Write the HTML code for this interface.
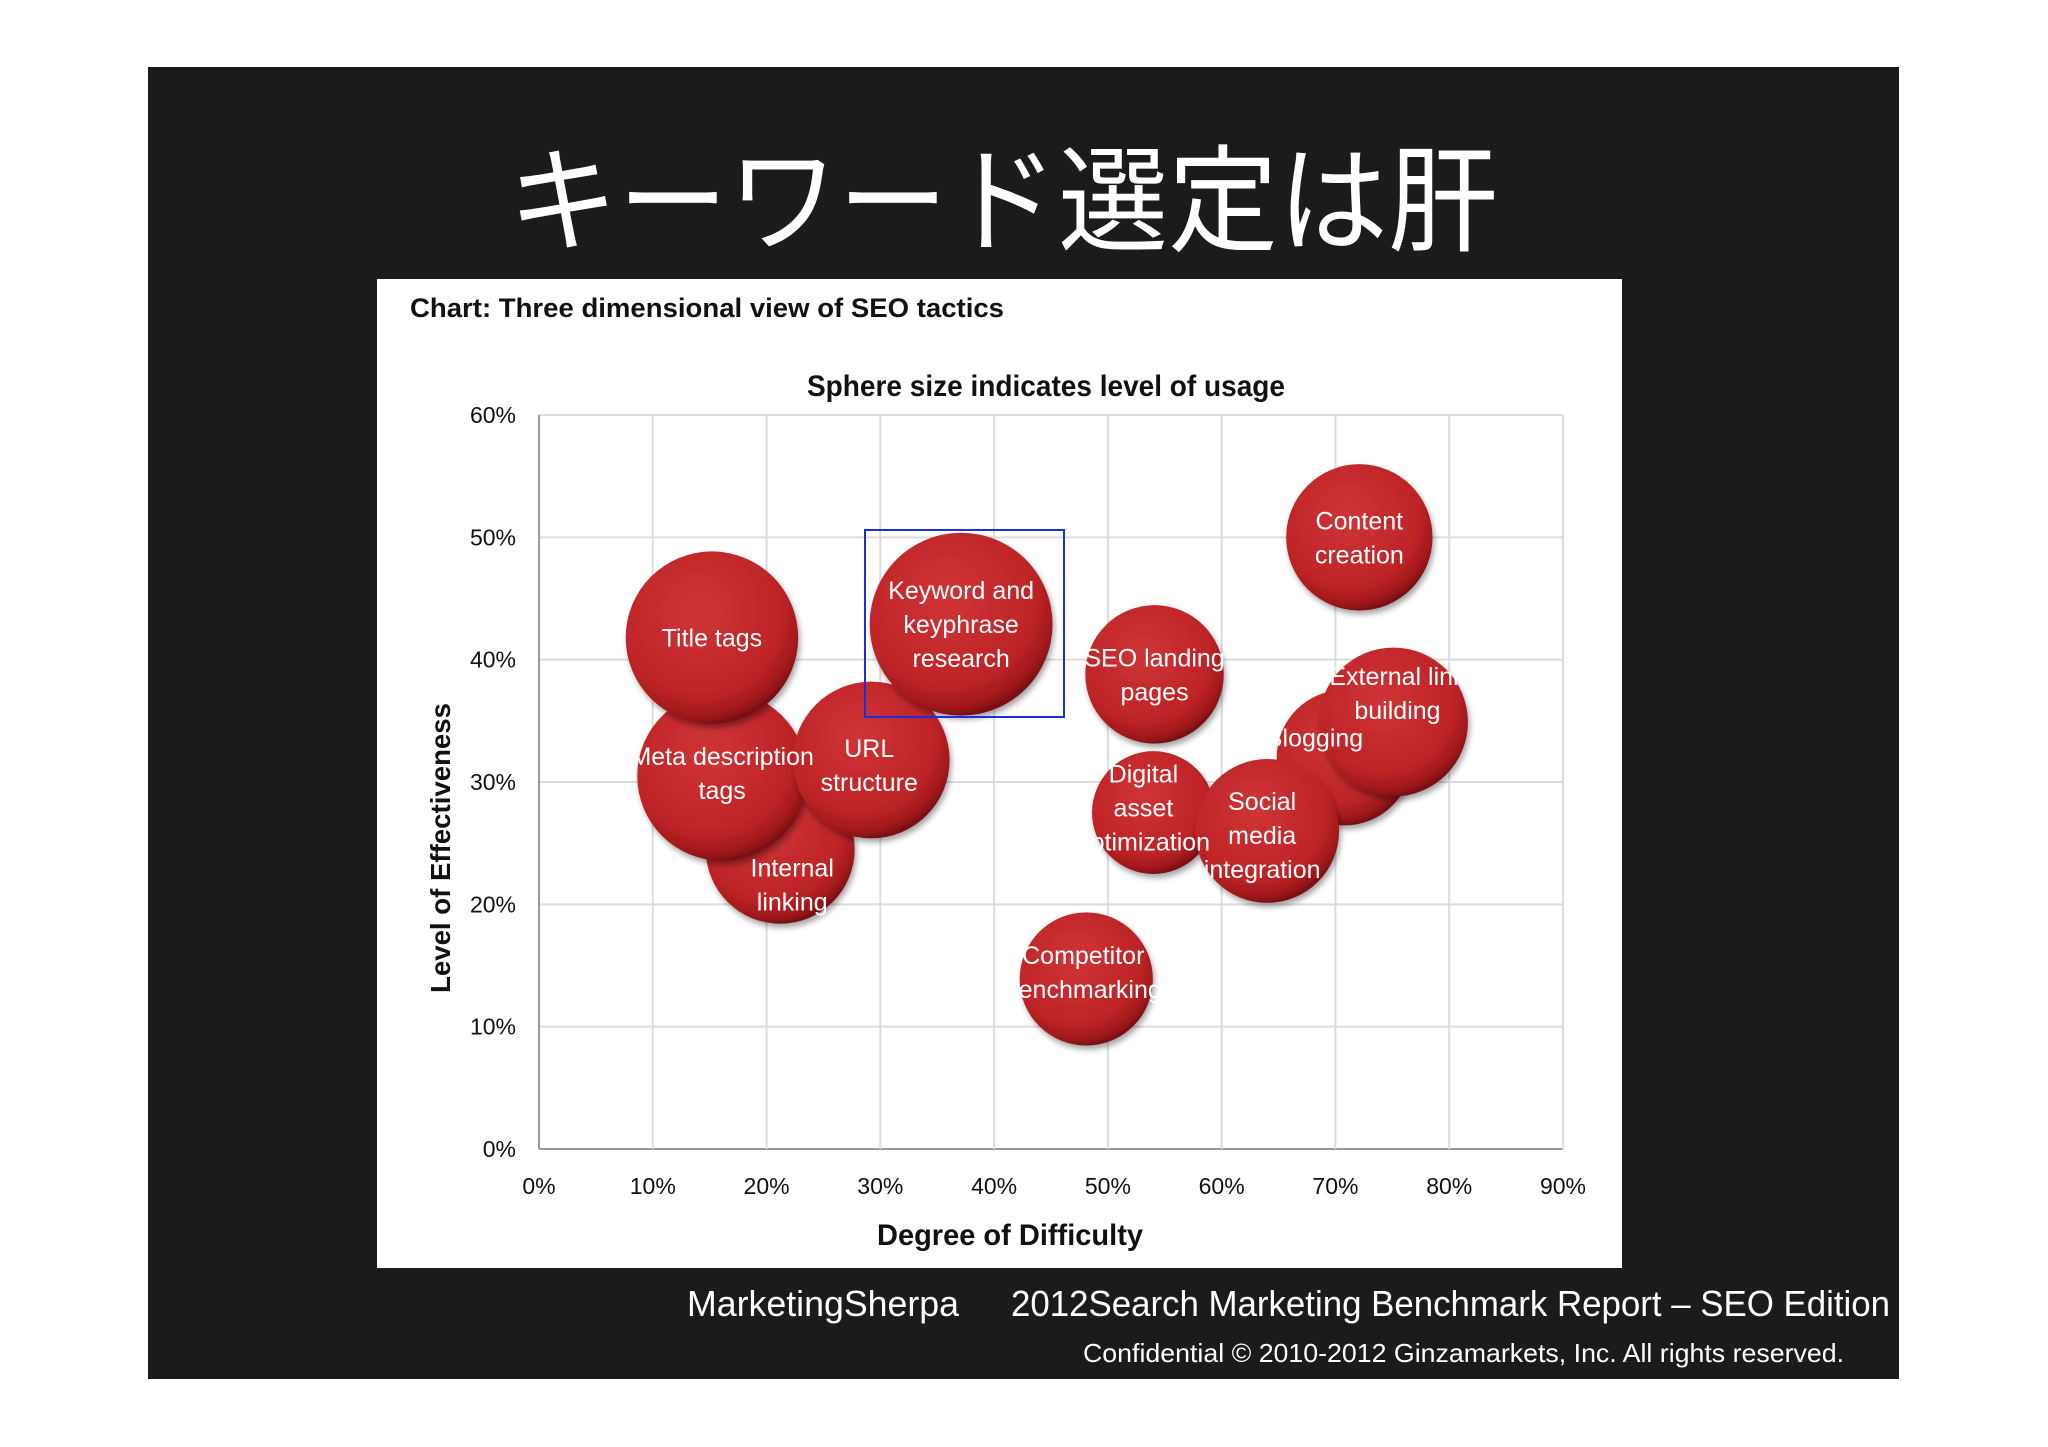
<!DOCTYPE html>
<html><head><meta charset="utf-8">
<style>
html,body{margin:0;padding:0;background:#fff;}
svg{display:block;}
text{font-family:"Liberation Sans","Noto Sans CJK JP",sans-serif;}
</style></head>
<body>
<svg id="slide" width="2048" height="1447" viewBox="0 0 2048 1447">
<defs>
<radialGradient id="ball" cx="0.42" cy="0.35" r="0.65">
<stop offset="0" stop-color="#cf3436"/>
<stop offset="0.75" stop-color="#bd2427"/>
<stop offset="0.93" stop-color="#a0181b"/>
<stop offset="1" stop-color="#7d1012"/>
</radialGradient>
<filter id="sh" x="-20%" y="-20%" width="140%" height="140%"><feDropShadow dx="2" dy="4" stdDeviation="3" flood-color="#000" flood-opacity="0.35"/></filter>
</defs>
<rect x="148" y="67" width="1751" height="1312" fill="#1c1a1b"/>
<text x="1003" y="242" font-size="116" fill="#fff" text-anchor="middle" textLength="990" lengthAdjust="spacingAndGlyphs">キーワード選定は肝</text>
<rect x="377" y="279" width="1245" height="989" fill="#fff"/>
<text x="410" y="317" font-size="27" font-weight="bold" fill="#111" textLength="594" lengthAdjust="spacingAndGlyphs">Chart: Three dimensional view of SEO tactics</text>
<text x="1046" y="396" font-size="30" font-weight="bold" fill="#111" text-anchor="middle" textLength="478" lengthAdjust="spacingAndGlyphs">Sphere size indicates level of usage</text>
<g id="plot"></g>
<text transform="translate(450,848) rotate(-90)" font-size="28" font-weight="bold" fill="#111" text-anchor="middle" textLength="290" lengthAdjust="spacingAndGlyphs">Level of Effectiveness</text>
<text x="1010" y="1245" font-size="30" font-weight="bold" fill="#111" text-anchor="middle" textLength="266" lengthAdjust="spacingAndGlyphs">Degree of Difficulty</text>
<text x="687" y="1316" font-size="36" fill="#fff" textLength="272" lengthAdjust="spacingAndGlyphs">MarketingSherpa</text>
<text x="1011" y="1316" font-size="36" fill="#fff" textLength="879" lengthAdjust="spacingAndGlyphs">2012Search Marketing Benchmark Report – SEO Edition</text>
<text x="1083" y="1362" font-size="26" fill="#fff" textLength="761" lengthAdjust="spacingAndGlyphs">Confidential © 2010-2012 Ginzamarkets, Inc. All rights reserved.</text>
</svg>
<script>
const names = ["Internal\nlinking","Meta description\ntags","Title tags","URL\nstructure","Keyword and\nkeyphrase\nresearch","Blogging","External link\nbuilding","Content\ncreation","SEO landing\npages","Digital\nasset\noptimization","Social\nmedia\nintegration","Competitor\nbenchmarking"];
const difficulty = [21.2,16.1,15.2,29.2,37.1,70.8,75.1,72.1,54.1,54.0,64.0,48.1];
const effectiveness = [24.5,30.5,41.8,31.8,42.9,32.0,34.9,50.0,38.8,27.5,26.0,13.9];
const usage = [32.5,42.3,43.6,36.0,49.0,27.0,32.5,31.4,28.1,22.1,30.3,26.0];
const labelDy = [35,-3,0,5,0,-20,-29,0,0,-5,4,-7];
const labelDx = [12,0,0,-2,0,-30,4,0,0,-10,-5,-3];
const xTicks = [0,10,20,30,40,50,60,70,80,90];
const yTicks = [0,10,20,30,40,50,60];

const X0=539,X1=1563,Y0=1149,Y1=415;
const xs=v=>X0+(v/90)*(X1-X0);
const ys=v=>Y0-(v/60)*(Y0-Y1);
const rs=u=>13.06*Math.sqrt(u);
const NS="http://www.w3.org/2000/svg";
const plot=document.getElementById('plot');
function mk(tag,attrs,parent){const e=document.createElementNS(NS,tag);for(const k in attrs)e.setAttribute(k,attrs[k]);(parent||plot).appendChild(e);return e;}

yTicks.forEach(t=>{
  const l=mk('line',{x1:X0,x2:X1,y1:ys(t),y2:ys(t),stroke:t===0?'#999':'#dcdcdc','stroke-width':2});
  
  
  const tx=mk('text',{x:516,y:ys(t)+8,'font-size':23,fill:'#111','text-anchor':'end'});
  tx.textContent=t+'%';
  
  
});
xTicks.forEach(t=>{
  const l=mk('line',{x1:xs(t),x2:xs(t),y1:Y1,y2:Y0,stroke:t===0?'#999':'#dcdcdc','stroke-width':2});
  
  
  const tx=mk('text',{x:xs(t),y:1194,'font-size':23,fill:'#111','text-anchor':'middle'});
  tx.textContent=t+'%';
  
  
});
names.forEach((n,i)=>{
  const c=mk('circle',{cx:xs(difficulty[i]),cy:ys(effectiveness[i]),r:rs(usage[i]),fill:'url(#ball)',filter:'url(#sh)'});
  
  
});
names.forEach((n,i)=>{
  const cx=xs(difficulty[i])+labelDx[i],cy=ys(effectiveness[i])+labelDy[i];
  const lines=n.split('\n');
  const lh=34;
  const t=mk('text',{'font-size':25,fill:'#fff','text-anchor':'middle'});
  
  
  lines.forEach((ln,j)=>{
    const s=mk('tspan',{x:cx,y:cy+(j-(lines.length-1)/2)*lh+9},t);
    s.textContent=ln;
  });
});
const sel=mk('rect',{x:865,y:530,width:199,height:187,fill:'none',stroke:'#1a2fe0','stroke-width':2});


</script>
</body></html>
